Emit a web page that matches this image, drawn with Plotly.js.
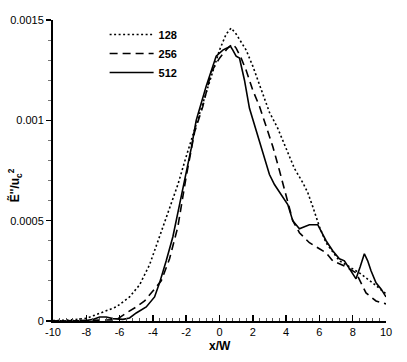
<!DOCTYPE html>
<html>
<head>
<meta charset="utf-8">
<script src="https://cdn.plot.ly/plotly-3.0.1.min.js"></script>
<style>
  html, body { margin: 0; padding: 0; background: #fff; }
  #chart { width: 407px; height: 362px; }
</style>
</head>
<body>
<div id="chart"></div>
<script>
// --- Data ---
const x128 = [-10, -9, -8, -7.2, -6.2, -5.4, -4.8, -4.2, -3.6, -3.0, -2.5, -2.0, -1.5, -1.0, -0.5, 0, 0.4, 0.7, 1.0, 1.6, 2.0, 2.5, 3.0, 3.5, 4.0, 4.5, 5.0, 5.3, 5.6, 6.0, 6.4, 7.2, 8.4, 9.2, 10];
const y128 = [0.000002, 0.000005, 0.000013, 0.000038, 0.00007, 0.00012, 0.00018, 0.00028, 0.00042, 0.00056, 0.00068, 0.00082, 0.00095, 0.00108, 0.00122, 0.00135, 0.00143, 0.00146, 0.00143, 0.00135, 0.00127, 0.00116, 0.00104, 0.00096, 0.00086, 0.00076, 0.00069, 0.00064, 0.00057, 0.00047, 0.00039, 0.0003, 0.00024, 0.00019, 0.000135];

const x256 = [-10, -8, -7, -6.2, -5.6, -5.0, -4.5, -4.0, -3.5, -3.0, -2.5, -2.0, -1.5, -1.0, -0.5, 0, 0.5, 0.8, 1.0, 1.3, 1.6, 2.0, 2.4, 2.8, 3.2, 3.6, 4.0, 4.4, 4.8, 5.4, 6.0, 6.4, 6.8, 7.6, 8.2, 8.8, 9.4, 10];
const y256 = [0, 0.000002, 0.000003, 0.000006, 0.00004, 0.00007, 0.0001, 0.00015, 0.0002, 0.00031, 0.00047, 0.00072, 0.00094, 0.00107, 0.00124, 0.00131, 0.00136, 0.00138, 0.00136, 0.00131, 0.00125, 0.00115, 0.00107, 0.00097, 0.00087, 0.00075, 0.00062, 0.0005, 0.00044, 0.00039, 0.00036, 0.00034, 0.0003, 0.00027, 0.00024, 0.00014, 0.0001, 0.000085];

const x512 = [-10, -8, -7.6, -7.2, -6.8, -6.4, -5.8, -5.4, -5.0, -4.4, -3.9, -3.6, -3.2, -2.8, -2.4, -2.0, -1.7, -1.4, -0.8, -0.2, 0.2, 0.45, 0.65, 0.8, 1.0, 1.2, 1.5, 1.8, 2.2, 2.6, 3.0, 3.3, 3.8, 4.1, 4.4, 4.8, 5.1, 5.4, 5.9, 6.1, 6.4, 6.8, 7.2, 7.5, 7.8, 8.0, 8.2, 8.45, 8.7, 8.9, 9.1, 9.4, 9.7, 10];
const y512 = [0, 0.000002, 0.000008, 0.00002, 0.00002, 0.000012, 0.000008, 0.000015, 0.00004, 0.00007, 0.00012, 0.00019, 0.0003, 0.00042, 0.00058, 0.00074, 0.00086, 0.001, 0.00117, 0.00132, 0.00135, 0.00136, 0.00137, 0.00135, 0.00132, 0.00131, 0.0012, 0.00106, 0.00095, 0.00084, 0.00073, 0.00068, 0.00062, 0.00058, 0.0005, 0.00046, 0.00047, 0.00048, 0.00048, 0.00045, 0.0004, 0.00035, 0.00031, 0.0003, 0.00026, 0.00023, 0.00021, 0.00027, 0.000335, 0.0003, 0.00025, 0.00019, 0.00016, 0.00012];

const seriesNames = ['128', '256', '512'];
const xTickVals = [-10, -8, -6, -4, -2, 0, 2, 4, 6, 8, 10];
const xTickText = ['-10', '-8', '-6', '-4', '-2', '0', '2', '4', '6', '8', '10'];
const yTickVals = [0, 0.0005, 0.001, 0.0015];
const yTickText = ['0', '0.0005', '0.001', '0.0015'];

const FONT = 'Liberation Sans, Arial, Helvetica, sans-serif';

function makeTrace(x, y, name, dash) {
    return {
        x: x, y: y, name: name,
        type: 'scatter', mode: 'lines',
        line: { color: '#000', width: 1.6, dash: dash }
    };
}

const traces = [
    makeTrace(x128, y128, seriesNames[0], '2px,2.5px'),
    makeTrace(x256, y256, seriesNames[1], '8px,5px'),
    makeTrace(x512, y512, seriesNames[2], 'solid')
];

const layout = {
    width: 407, height: 362,
    margin: { l: 53, r: 21, t: 20, b: 41, pad: 0 },
    paper_bgcolor: '#fff', plot_bgcolor: '#fff',
    font: { family: FONT, size: 11, color: '#000' },
    showlegend: true,
    legend: {
        x: 0.155, y: 1.0, xanchor: 'left', yanchor: 'top',
        bgcolor: 'rgba(0,0,0,0)', borderwidth: 0,
        font: { family: FONT, size: 11, color: '#000', weight: 'bold' },
        itemwidth: 44
    },
    xaxis: {
        range: [-10, 10],
        tickmode: 'array', tickvals: xTickVals, ticktext: xTickText,
        showline: true, linecolor: '#000', linewidth: 2,
        ticks: 'inside', ticklen: 6, tickwidth: 1.5, tickcolor: '#000',
        minor: { dtick: 0.4, tick0: -10, ticks: 'inside', ticklen: 3, tickwidth: 1, tickcolor: '#555' },
        showgrid: false, zeroline: false,
        tickfont: { family: FONT, size: 11, color: '#000' }
    },
    yaxis: {
        range: [0, 0.0015],
        tickmode: 'array', tickvals: yTickVals, ticktext: yTickText,
        showline: true, linecolor: '#000', linewidth: 2,
        ticks: 'outside', ticklen: 5, tickwidth: 1.5, tickcolor: '#000',
        minor: { dtick: 0.0001, ticks: 'outside', ticklen: 3, tickwidth: 1, tickcolor: '#777' },
        showgrid: false, zeroline: false,
        tickfont: { family: FONT, size: 11, color: '#000' }
    },
    annotations: [
        {
            text: '<b>x/W</b>', xref: 'paper', yref: 'paper',
            x: 0.5, y: -0.082, xanchor: 'center', yanchor: 'middle',
            showarrow: false, font: { family: FONT, size: 12, color: '#000' }
        },
        {
            text: "<b>Ẽ''/u<sub>c</sub><sup>2</sup></b>", xref: 'paper', yref: 'paper',
            x: -0.115, y: 0.45, xanchor: 'center', yanchor: 'middle', textangle: -90,
            showarrow: false, font: { family: FONT, size: 12, color: '#000' }
        }
    ]
};

Plotly.newPlot('chart', traces, layout, { staticPlot: true, displayModeBar: false });
</script>
</body>
</html>
